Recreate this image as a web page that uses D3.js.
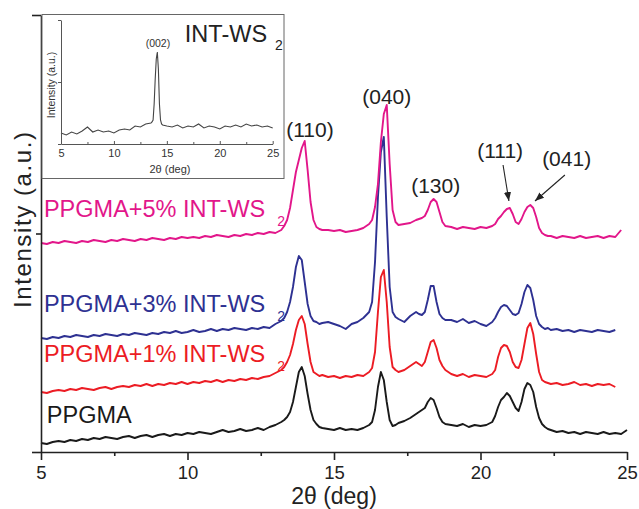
<!DOCTYPE html>
<html>
<head>
<meta charset="utf-8">
<script src="https://cdn.jsdelivr.net/npm/d3@7"></script>
<style>
  body { margin: 0; background: #fff; }
  svg { display: block; font-family: "Liberation Sans", Arial, Helvetica, sans-serif; }
</style>
</head>
<body>
<div id="chart"></div>
<script>
// XRD patterns, 2-theta in degrees, intensity in arbitrary (offset) units
const twoTheta = [
  5.0, 5.2, 5.4, 5.6, 5.8, 6.0, 6.2, 6.4, 6.6, 6.8, 7.0, 7.2, 7.4, 7.6, 7.8, 8.0, 8.2, 8.4, 8.6, 8.8,
  9.0, 9.2, 9.4, 9.6, 9.8, 10.0, 10.2, 10.4, 10.6, 10.8, 11.0, 11.2, 11.4, 11.6, 11.8, 12.0, 12.2, 12.4, 12.6, 12.8,
  13.0, 13.2,
  13.3, 13.4, 13.5, 13.6, 13.7, 13.8, 13.9, 14.0, 14.1, 14.2, 14.3, 14.4, 14.5, 14.6,
  14.8, 15.0, 15.2, 15.4, 15.6, 15.8, 16.0, 16.2,
  16.3, 16.4, 16.5, 16.6, 16.7, 16.8, 16.9, 17.0, 17.1, 17.2,
  17.4, 17.6, 17.8,
  17.9, 18.0, 18.1, 18.2, 18.3, 18.4, 18.5, 18.6, 18.7, 18.8,
  19.0, 19.2, 19.4, 19.6, 19.8, 20.0, 20.2, 20.4,
  20.5, 20.6, 20.7, 20.8, 20.9, 21.0, 21.1, 21.2, 21.3, 21.4, 21.5, 21.6, 21.7, 21.8, 21.9, 22.0, 22.1, 22.2, 22.3,
  22.4, 22.6, 22.8, 23.0, 23.2, 23.4, 23.6, 23.8, 24.0, 24.2, 24.4, 24.6, 24.8, 25.0
];

const ppgma = [
  9, 8, 10, 11, 10, 12, 11, 13, 12, 14, 13, 15, 14, 13, 15, 16, 14, 16, 17, 15,
  17, 18, 16, 18, 17, 19, 18, 20, 19, 18, 20, 22, 20, 21, 23, 21, 22, 24, 22, 25,
  27, 30,
  32, 35, 40, 50, 65, 80, 85, 76, 58, 42, 32, 28, 25, 24,
  23, 22, 24, 22, 23, 22, 24, 27,
  30, 42, 65, 80, 72, 50, 32, 26, 27, 29,
  31, 34, 38,
  40, 42, 44, 50, 54, 52, 44, 35, 30, 28,
  27, 26, 28, 25, 27, 26, 27, 30,
  36, 45, 52, 55, 59, 56, 50, 44, 41, 50, 63, 69, 67, 60, 45, 34, 28, 25, 23,
  22, 20, 21, 19, 20, 18, 20, 19, 18, 20, 18, 19, 18, 22
];

const ppgma1 = [
  60, 59, 61, 62, 61, 63, 62, 64, 63, 62, 64, 65, 63, 65, 66, 65, 67, 66, 68, 66,
  68, 67, 69, 68, 70, 68, 70, 69, 71, 70, 72, 70, 72, 71, 73, 72, 74, 73, 75, 76,
  79, 82,
  85, 90, 97, 108, 122, 132, 136, 128, 108, 90, 80, 78, 76, 77,
  75, 76, 74, 76, 75, 77, 76, 80,
  84, 100, 140, 175, 182, 150, 105, 85, 82, 80,
  82, 86, 90,
  88, 86, 90, 100, 110, 112, 104, 92, 86, 82,
  78, 76, 78, 75, 77, 76, 75, 78,
  82, 95, 104, 107, 106, 100, 90, 85, 84, 92, 108, 124, 129, 118, 98, 80, 72, 70, 69,
  68, 69, 67, 68, 70, 67, 68, 66, 68, 67, 68, 65, null, null
];

const ppgma3 = [
  114, 113, 115, 114, 116, 115, 117, 116, 115, 117, 116, 118, 117, 116, 118, 117, 119, 118, 117, 119,
  118, 120, 119, 121, 119, 120, 122, 120, 121, 123, 121, 123, 122, 124, 123, 122, 124, 123, 125, 124,
  128, 131,
  134, 140, 150, 165, 185, 196, 192, 170, 148, 136, 131, 130, 128, 129,
  130, 128, 126, 123, 128, 130, 134, 140,
  150, 190, 255, 300, 315, 235, 165, 140, 135, 133,
  130, 136, 140,
  138, 137, 140, 152, 166, 166, 150, 138, 134, 132,
  132, 130, 133, 129, 131, 128, 126, 130,
  134, 140, 145, 147, 146, 142, 138, 137, 139, 148, 160, 167, 164, 152, 136, 128, 125, 123, 124,
  122, 123, 121, 122, 120, 122, 121, 120, 122, 121, 120, 122, null, null
];

const ppgma5 = [
  209, 208, 210, 209, 211, 210, 209, 211, 210, 212, 211, 210, 212, 211, 213, 212, 211, 213, 212, 214,
  213, 212, 214, 213, 215, 214, 215, 214, 216, 215, 217, 216, 215, 217, 216, 218, 217, 219, 218, 220,
  219, 222,
  226, 232, 244, 262, 280, 292, 304, 311, 282, 250, 232, 225, 223, 222,
  222, 221, 222, 220, 221, 222, 224, 228,
  232, 245, 268, 310, 338, 347, 288, 242, 230, 227,
  228, 229, 232,
  233, 234, 236, 242, 250, 253, 250, 240, 230, 226,
  225, 223, 225, 224, 223, 225, 224, 226,
  228, 233, 236, 240, 243, 244, 238, 230, 228, 233, 240, 245, 247, 244, 235, 224, 219, 217, 216,
  216, 214, 216, 215, 214, 216, 214, 215, 216, 214, 216, 215, 222, null
];

// inset: pure INT-WS2
const insetTheta = [
  5.0, 5.5, 6.0, 6.5, 7.0, 7.5, 8.0, 8.5, 9.0, 9.5, 10.0, 10.5, 11.0, 11.5, 12.0, 12.5, 13.0, 13.5,
  13.6, 13.7, 13.8, 13.9, 14.0, 14.1, 14.2, 14.3, 14.4, 14.5, 14.6,
  15.0, 15.5, 16.0, 16.5, 17.0, 17.5, 18.0, 18.5, 19.0, 19.5, 20.0, 20.5, 21.0, 21.5, 22.0, 22.5,
  23.0, 23.5, 24.0, 24.5, 25.0
];
const insetWS2 = [
  11, 9, 12, 10, 13, 17, 12, 14, 12, 13, 11, 14, 15, 14, 18, 17, 20, 21,
  22, 24, 40, 65, 85, 92, 75, 40, 24, 20, 19,
  18, 17, 19, 16, 18, 17, 20, 16, 18, 17, 15, 18, 17, 19, 17, 20,
  18, 19, 17, 18, 16
];

const seriesColors = ["#1a1a1a", "#ec1c24", "#2e3192", "#e2168a"];
const seriesNames = ["PPGMA", "PPGMA+1% INT-WS", "PPGMA+3% INT-WS", "PPGMA+5% INT-WS"];
const seriesSubs = ["", "2", "2", "2"];
const seriesLabelAt = [[5.2, 29], [5.1, 90], [5.1, 140], [5.1, 235]];

const peakNames = ["(110)", "(040)", "(130)", "(111)", "(041)"];
const peakLabelAt = [[14.18, 315], [16.80, 348], [18.47, 259], [20.67, 294], [22.94, 286]];
const arrowFrom = [[20.77, 287], [22.88, 277]];
const arrowTo = [[20.97, 251], [21.86, 251]];

const xTicks = [5, 10, 15, 20, 25];
const xMinorTicks = [7.5, 12.5, 17.5, 22.5];
const yMax = 437;
const insetYMax = 124;

const W = 639, H = 509;
const svg = d3.select("#chart").append("svg")
  .attr("width", W)
  .attr("height", H);

svg.append("rect").attr("width", W).attr("height", H).attr("fill", "#fff");

// main scales
const x = d3.scaleLinear().domain([5, 25]).range([41, 627]);
const y = d3.scaleLinear().domain([0, yMax]).range([452, 15]);

const series = [ppgma, ppgma1, ppgma3, ppgma5];

const line = d3.line()
  .defined(d => d[1] != null)
  .x(d => x(d[0]))
  .y(d => y(d[1]));

series.forEach(function (vals, i) {
  svg.append("path")
    .datum(twoTheta.map((t, j) => [t, vals[j]]))
    .attr("fill", "none")
    .attr("stroke", seriesColors[i])
    .attr("stroke-width", 1.9)
    .attr("stroke-linejoin", "round")
    .attr("d", line);
});

// axes
const axisColor = "#222";
const xAxis = svg.append("g")
  .attr("transform", "translate(0,452)")
  .call(d3.axisBottom(x).tickValues(xTicks).tickSizeInner(8).tickSizeOuter(0).tickPadding(6).tickFormat(d3.format("d")));
xAxis.selectAll("text").style("font-size", "18.5px").attr("fill", "#222");

const xMinor = svg.append("g")
  .attr("transform", "translate(0,452)")
  .call(d3.axisBottom(x).tickValues(xMinorTicks).tickSize(4).tickFormat(""));
xMinor.select(".domain").remove();

const yAxis = svg.append("g")
  .attr("transform", "translate(41,0)")
  .call(d3.axisLeft(y).tickValues([0, yMax]).tickSizeInner(9).tickSizeOuter(0).tickFormat(""));
const yMinor = svg.append("g")
  .attr("transform", "translate(41,0)")
  .call(d3.axisLeft(y).tickValues([yMax / 2]).tickSize(5).tickFormat(""));
yMinor.select(".domain").remove();

svg.selectAll(".domain, .tick line")
  .attr("stroke", axisColor)
  .attr("stroke-width", 1.6);

svg.append("text")
  .attr("x", 334)
  .attr("y", 504)
  .attr("text-anchor", "middle")
  .style("font-size", "23px")
  .attr("fill", "#222")
  .text("2θ (deg)");

svg.append("text")
  .attr("transform", "translate(31,220) rotate(-90)")
  .attr("text-anchor", "middle")
  .attr("textLength", 176)
  .attr("lengthAdjust", "spacing")
  .style("font-size", "24px")
  .attr("fill", "#222")
  .text("Intensity (a.u.)");

// series labels
seriesNames.forEach(function (name, i) {
  const t = svg.append("text")
    .attr("x", x(seriesLabelAt[i][0]))
    .attr("y", y(seriesLabelAt[i][1]))
    .style("font-size", "23.5px")
    .attr("fill", seriesColors[i])
    .text(name);
  if (seriesSubs[i]) {
    t.append("tspan")
      .attr("dx", 12)
      .attr("dy", 9)
      .style("font-size", "14px")
      .text(seriesSubs[i]);
  }
});

// peak labels
peakNames.forEach(function (name, i) {
  svg.append("text")
    .attr("x", x(peakLabelAt[i][0]))
    .attr("y", y(peakLabelAt[i][1]))
    .attr("text-anchor", "middle")
    .style("font-size", "21px")
    .attr("fill", "#222")
    .text(name);
});

svg.append("defs").append("marker")
  .attr("id", "arrow")
  .attr("viewBox", "0 0 10 10")
  .attr("refX", 10).attr("refY", 5)
  .attr("markerWidth", 9).attr("markerHeight", 9)
  .attr("markerUnits", "userSpaceOnUse")
  .attr("orient", "auto")
  .append("path")
  .attr("d", "M0,1 L10,5 L0,9 Z")
  .attr("fill", "#222");

arrowFrom.forEach(function (p, i) {
  svg.append("line")
    .attr("x1", x(p[0])).attr("y1", y(p[1]))
    .attr("x2", x(arrowTo[i][0])).attr("y2", y(arrowTo[i][1]))
    .attr("stroke", "#222")
    .attr("stroke-width", 1.1)
    .attr("marker-end", "url(#arrow)");
});

// inset
const inset = svg.append("g");
inset.append("rect")
  .attr("x", 42).attr("y", 14.5)
  .attr("width", 242).attr("height", 164)
  .attr("fill", "#fff")
  .attr("stroke", "#666")
  .attr("stroke-width", 1);

const ix = d3.scaleLinear().domain([5, 25]).range([61, 272.7]);
const iy = d3.scaleLinear().domain([0, insetYMax]).range([144, 20]);

inset.append("path")
  .datum(insetTheta.map((t, j) => [t, insetWS2[j]]))
  .attr("fill", "none")
  .attr("stroke", "#444")
  .attr("stroke-width", 1.1)
  .attr("d", d3.line().x(d => ix(d[0])).y(d => iy(d[1])));

const ixAxis = inset.append("g")
  .attr("transform", "translate(0,144)")
  .call(d3.axisBottom(ix).tickValues(xTicks).tickSizeInner(-3).tickSizeOuter(0).tickPadding(5).tickFormat(d3.format("d")));
ixAxis.selectAll("text").style("font-size", "11px").attr("fill", "#333");
const ixMinor = inset.append("g")
  .attr("transform", "translate(0,144)")
  .call(d3.axisBottom(ix).tickValues(xMinorTicks).tickSize(-2).tickFormat(""));
ixMinor.select(".domain").remove();

inset.append("g")
  .attr("transform", "translate(61,0)")
  .call(d3.axisLeft(iy).tickValues([0, insetYMax / 2, insetYMax]).tickSizeInner(3).tickSizeOuter(0).tickFormat(""));

inset.selectAll(".domain, .tick line")
  .attr("stroke", "#555")
  .attr("stroke-width", 1);

inset.append("text")
  .attr("x", 170).attr("y", 173)
  .attr("text-anchor", "middle")
  .style("font-size", "11px")
  .attr("fill", "#333")
  .text("2θ (deg)");

inset.append("text")
  .attr("transform", "translate(54.5,85) rotate(-90)")
  .attr("text-anchor", "middle")
  .style("font-size", "10.5px")
  .attr("fill", "#333")
  .text("Intensity (a.u.)");

inset.append("text")
  .attr("x", ix(14.16)).attr("y", iy(97))
  .attr("text-anchor", "middle")
  .style("font-size", "10.5px")
  .attr("fill", "#333")
  .text("(002)");

inset.append("text")
  .attr("x", ix(16.7)).attr("y", iy(102))
  .style("font-size", "23.5px")
  .attr("fill", "#222")
  .text("INT-WS")
  .append("tspan")
  .attr("dx", 8)
  .attr("dy", 8)
  .style("font-size", "14px")
  .text("2");
</script>
</body>
</html>
